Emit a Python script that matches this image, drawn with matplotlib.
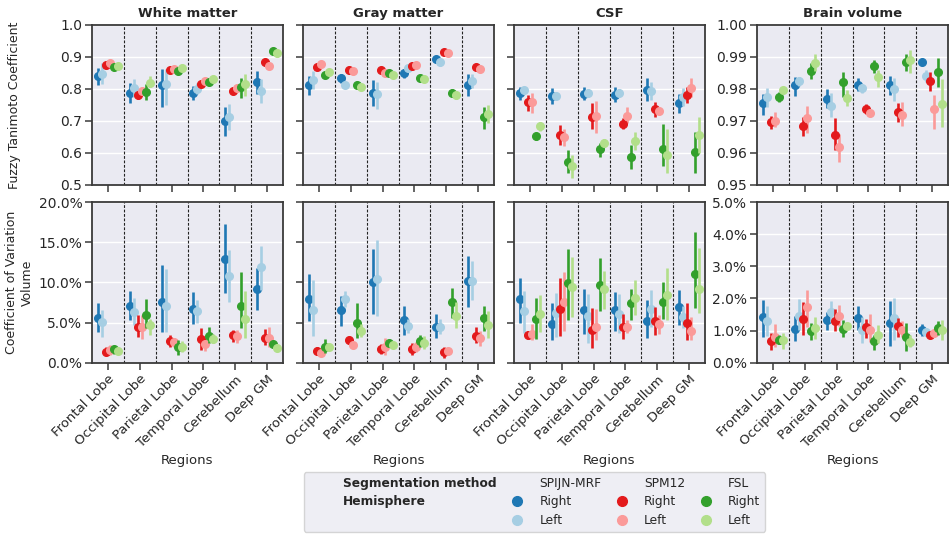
import matplotlib
matplotlib.use("Agg")
import matplotlib.pyplot as plt
import seaborn as sns
import numpy as np
from matplotlib.lines import Line2D
from matplotlib.ticker import FuncFormatter

sns.set_theme(style="darkgrid")
plt.rcParams['font.family'] = ['DejaVu Sans']

regions = ["Frontal Lobe", "Occipital Lobe", "Parietal Lobe", "Temporal Lobe", "Cerebellum", "Deep GM"]
tissues = ["White matter", "Gray matter", "CSF", "Brain volume"]
methods = ["SPIJN-MRF", "SPM12", "FSL"]
hemispheres = ["Right", "Left"]
colors = ["#1f78b4", "#a6cee3", "#e31a1c", "#fb9a99", "#33a02c", "#b2df8a"]

# series order: SPIJN R, SPIJN L, SPM R, SPM L, FSL R, FSL L ; columns = regions
wm_ftc_mean = [[0.840, 0.789, 0.811, 0.786, 0.699, 0.821],
               [0.848, 0.804, 0.815, 0.799, 0.714, 0.793],
               [0.874, 0.780, 0.858, 0.815, 0.793, 0.883],
               [0.881, 0.793, 0.862, 0.824, 0.804, 0.872],
               [0.869, 0.790, 0.856, 0.821, 0.807, 0.918],
               [0.873, 0.820, 0.866, 0.832, 0.817, 0.911]]
wm_ftc_lo = [[0.814, 0.755, 0.745, 0.766, 0.652, 0.783],
             [0.815, 0.776, 0.750, 0.783, 0.672, 0.755],
             [0.868, 0.768, 0.851, 0.810, 0.786, 0.877],
             [0.875, 0.783, 0.855, 0.818, 0.794, 0.864],
             [0.862, 0.765, 0.846, 0.814, 0.773, 0.908],
             [0.867, 0.805, 0.858, 0.825, 0.779, 0.901]]
wm_ftc_hi = [[0.866, 0.820, 0.861, 0.809, 0.745, 0.855],
             [0.881, 0.830, 0.864, 0.820, 0.752, 0.830],
             [0.880, 0.790, 0.865, 0.820, 0.800, 0.889],
             [0.887, 0.803, 0.869, 0.830, 0.814, 0.880],
             [0.876, 0.817, 0.866, 0.828, 0.835, 0.928],
             [0.879, 0.840, 0.874, 0.839, 0.846, 0.921]]

gm_ftc_mean = [[0.812, 0.833, 0.788, 0.850, 0.893, 0.812],
               [0.827, 0.814, 0.783, 0.866, 0.883, 0.824],
               [0.869, 0.858, 0.858, 0.872, 0.915, 0.870],
               [0.879, 0.855, 0.850, 0.874, 0.912, 0.864],
               [0.843, 0.812, 0.850, 0.835, 0.788, 0.712],
               [0.853, 0.807, 0.843, 0.831, 0.782, 0.722]]
gm_ftc_lo = [[0.781, 0.819, 0.748, 0.833, 0.883, 0.779],
             [0.799, 0.810, 0.737, 0.861, 0.873, 0.802],
             [0.864, 0.853, 0.853, 0.867, 0.910, 0.865],
             [0.874, 0.850, 0.845, 0.869, 0.907, 0.859],
             [0.838, 0.806, 0.840, 0.825, 0.776, 0.675],
             [0.848, 0.801, 0.833, 0.821, 0.770, 0.693]]
gm_ftc_hi = [[0.840, 0.846, 0.827, 0.864, 0.903, 0.848],
             [0.855, 0.818, 0.823, 0.871, 0.893, 0.848],
             [0.874, 0.863, 0.863, 0.877, 0.920, 0.875],
             [0.884, 0.860, 0.855, 0.879, 0.917, 0.869],
             [0.848, 0.818, 0.860, 0.845, 0.800, 0.745],
             [0.858, 0.813, 0.853, 0.841, 0.794, 0.750]]

csf_ftc_mean = [[0.786, 0.779, 0.784, 0.781, 0.796, 0.757],
                [0.796, 0.779, 0.788, 0.789, 0.794, 0.776],
                [0.758, 0.657, 0.711, 0.691, 0.738, 0.781],
                [0.758, 0.650, 0.716, 0.716, 0.731, 0.802],
                [0.652, 0.572, 0.611, 0.588, 0.611, 0.603],
                [0.683, 0.559, 0.631, 0.638, 0.593, 0.657]]
csf_ftc_lo = [[0.766, 0.752, 0.766, 0.759, 0.762, 0.724],
              [0.786, 0.769, 0.776, 0.779, 0.766, 0.747],
              [0.731, 0.624, 0.675, 0.675, 0.712, 0.757],
              [0.724, 0.623, 0.664, 0.693, 0.721, 0.776],
              [0.642, 0.536, 0.587, 0.549, 0.559, 0.536],
              [0.670, 0.521, 0.619, 0.610, 0.538, 0.600]]
csf_ftc_hi = [[0.807, 0.802, 0.805, 0.805, 0.833, 0.783],
              [0.806, 0.789, 0.800, 0.799, 0.823, 0.802],
              [0.781, 0.686, 0.755, 0.708, 0.760, 0.807],
              [0.786, 0.675, 0.764, 0.743, 0.741, 0.833],
              [0.662, 0.608, 0.630, 0.626, 0.691, 0.667],
              [0.696, 0.593, 0.643, 0.665, 0.675, 0.714]]

bv_ftc_mean = [[0.9757, 0.9812, 0.9768, 0.9814, 0.9814, 0.9884],
               [0.9776, 0.9824, 0.9748, 0.9802, 0.9799, 0.9840],
               [0.9696, 0.9683, 0.9657, 0.9737, 0.9727, 0.9824],
               [0.9700, 0.9709, 0.9618, 0.9724, 0.9719, 0.9737],
               [0.9776, 0.9855, 0.9822, 0.9871, 0.9884, 0.9853],
               [0.9796, 0.9882, 0.9773, 0.9836, 0.9892, 0.9752]]
bv_ftc_lo = [[0.9719, 0.9779, 0.9740, 0.9794, 0.9781, 0.9874],
             [0.9745, 0.9809, 0.9714, 0.9787, 0.9762, 0.9822],
             [0.9675, 0.9652, 0.9610, 0.9722, 0.9698, 0.9794],
             [0.9680, 0.9664, 0.9572, 0.9718, 0.9685, 0.9676],
             [0.9760, 0.9830, 0.9776, 0.9851, 0.9855, 0.9805],
             [0.9790, 0.9855, 0.9747, 0.9807, 0.9850, 0.9680]]
bv_ftc_hi = [[0.9783, 0.9838, 0.9800, 0.9834, 0.9840, 0.9894],
             [0.9804, 0.9839, 0.9786, 0.9817, 0.9833, 0.9860],
             [0.9717, 0.9711, 0.9709, 0.9752, 0.9757, 0.9853],
             [0.9729, 0.9747, 0.9659, 0.9730, 0.9760, 0.9781],
             [0.9791, 0.9882, 0.9853, 0.9891, 0.9910, 0.9898],
             [0.9802, 0.9910, 0.9796, 0.9860, 0.9923, 0.9831]]

wm_cov_mean = [[5.6, 7.1, 7.5, 6.7, 12.85, 9.2],
               [5.1, 6.3, 7.1, 6.4, 10.8, 11.9],
               [1.3, 4.4, 2.7, 2.9, 3.5, 3.1],
               [1.6, 4.5, 2.6, 2.3, 3.3, 3.1],
               [1.7, 5.9, 1.9, 3.3, 7.0, 2.3],
               [1.5, 4.7, 2.0, 2.9, 5.4, 1.8]]
wm_cov_lo = [[3.8, 5.3, 3.8, 4.8, 8.7, 6.5],
             [3.2, 4.7, 3.8, 4.9, 7.6, 9.1],
             [0.95, 3.2, 1.9, 1.6, 2.6, 2.2],
             [1.0, 3.0, 2.0, 1.4, 2.5, 2.0],
             [1.1, 4.3, 1.0, 2.4, 4.3, 1.9],
             [1.2, 3.5, 1.3, 2.4, 3.1, 1.5]]
wm_cov_hi = [[7.4, 8.9, 12.2, 8.8, 17.3, 11.8],
             [6.6, 8.0, 11.6, 7.8, 14.0, 14.5],
             [2.0, 5.9, 3.4, 4.3, 4.1, 4.2],
             [2.2, 5.9, 3.1, 3.2, 4.1, 4.4],
             [2.1, 7.9, 2.8, 4.5, 11.3, 2.6],
             [1.8, 5.5, 2.7, 3.6, 8.9, 2.1]]

gm_cov_mean = [[7.9, 6.5, 10.0, 5.3, 4.5, 10.2],
               [6.5, 7.9, 10.4, 4.6, 4.5, 10.2],
               [1.5, 2.8, 1.7, 1.7, 1.3, 3.3],
               [1.2, 2.2, 2.0, 2.0, 1.4, 3.1],
               [1.9, 4.9, 2.5, 2.7, 7.6, 5.6],
               [1.9, 4.0, 2.2, 2.5, 5.8, 4.7]]
gm_cov_lo = [[5.2, 4.6, 6.0, 3.4, 3.1, 6.9],
             [3.3, 6.9, 5.8, 3.7, 3.6, 7.8],
             [0.95, 2.3, 1.1, 1.0, 0.6, 2.4],
             [0.8, 1.8, 1.0, 1.3, 1.0, 2.1],
             [1.2, 3.1, 2.2, 1.9, 5.6, 4.0],
             [1.7, 3.2, 2.0, 1.7, 4.3, 3.1]]
gm_cov_hi = [[11.1, 8.3, 14.2, 7.1, 6.0, 13.3],
             [10.3, 8.9, 15.3, 5.4, 5.5, 12.6],
             [1.9, 3.2, 2.3, 2.4, 1.9, 4.4],
             [1.6, 2.6, 3.1, 2.6, 1.8, 4.0],
             [2.9, 7.4, 2.8, 3.4, 9.3, 7.0],
             [2.1, 4.8, 2.4, 3.3, 7.6, 6.4]]

csf_cov_mean = [[7.9, 4.8, 6.6, 6.5, 5.2, 6.9],
                [6.4, 6.2, 5.8, 6.1, 6.7, 5.7],
                [3.5, 6.7, 4.1, 4.5, 5.2, 5.0],
                [3.6, 7.5, 4.5, 4.5, 4.8, 4.0],
                [5.4, 9.9, 9.7, 7.4, 7.5, 11.0],
                [6.0, 9.4, 9.2, 8.1, 8.4, 9.2]]
csf_cov_lo = [[5.0, 2.8, 3.6, 4.0, 3.1, 4.7],
              [3.7, 3.2, 2.5, 3.7, 4.5, 4.3],
              [2.9, 3.3, 1.8, 2.9, 3.4, 2.8],
              [2.8, 4.0, 2.8, 3.7, 3.6, 2.8],
              [3.0, 5.3, 6.4, 5.3, 5.4, 6.8],
              [3.8, 5.7, 6.7, 5.9, 5.3, 6.2]]
csf_cov_hi = [[10.5, 7.4, 9.2, 8.8, 7.8, 9.0],
              [8.9, 8.7, 8.6, 8.6, 9.1, 7.1],
              [4.0, 10.5, 6.8, 6.0, 6.9, 7.4],
              [4.8, 11.3, 6.7, 5.3, 5.9, 5.7],
              [8.0, 14.2, 13.0, 9.2, 10.0, 16.3],
              [8.4, 13.2, 11.4, 10.3, 11.8, 14.3]]

bv_cov_mean = [[1.43, 1.06, 1.32, 1.39, 1.22, 1.01],
               [1.29, 1.45, 1.58, 1.01, 1.39, 0.96],
               [0.68, 1.35, 1.30, 1.10, 1.14, 0.86],
               [0.81, 1.74, 1.45, 1.03, 1.01, 0.93],
               [0.72, 0.98, 1.06, 0.68, 0.81, 1.08],
               [0.70, 1.08, 1.14, 0.86, 0.65, 1.01]]
bv_cov_lo = [[0.81, 0.67, 1.03, 1.01, 0.52, 0.83],
             [0.83, 1.01, 1.27, 0.60, 0.70, 0.90],
             [0.39, 0.86, 0.99, 0.77, 0.79, 0.79],
             [0.50, 1.12, 1.14, 0.65, 0.80, 0.81],
             [0.58, 0.72, 0.81, 0.41, 0.37, 0.86],
             [0.44, 0.75, 1.08, 0.60, 0.48, 0.70]]
bv_cov_hi = [[1.96, 1.45, 1.58, 1.76, 1.92, 1.19],
             [1.76, 1.99, 1.91, 1.43, 2.02, 1.02],
             [0.93, 1.89, 1.68, 1.37, 1.40, 0.93],
             [1.19, 2.27, 1.79, 1.53, 1.30, 1.05],
             [0.86, 1.24, 1.32, 0.86, 1.24, 1.29],
             [0.91, 1.43, 1.20, 1.17, 0.86, 1.32]]

ftc_data = [(wm_ftc_mean, wm_ftc_lo, wm_ftc_hi), (gm_ftc_mean, gm_ftc_lo, gm_ftc_hi),
            (csf_ftc_mean, csf_ftc_lo, csf_ftc_hi), (bv_ftc_mean, bv_ftc_lo, bv_ftc_hi)]
cov_data = [(wm_cov_mean, wm_cov_lo, wm_cov_hi), (gm_cov_mean, gm_cov_lo, gm_cov_hi),
            (csf_cov_mean, csf_cov_lo, csf_cov_hi), (bv_cov_mean, bv_cov_lo, bv_cov_hi)]

W, H = 949, 535
fig = plt.figure(figsize=(W / 100, H / 100), dpi=100)

lefts = [92, 303, 514, 757]
pw = 191
top_row = (25, 185)
bot_row = (202, 362.7)

def make_ax(x0, row):
    t, b = row
    return fig.add_axes([x0 / W, 1 - b / H, pw / W, (b - t) / H])

spine_c = "#3a3a3a"
txt_c = "#262626"
x = np.arange(len(regions))
offsets = (np.arange(6) - 2.5) * 0.125

def draw(ax, data):
    m, lo, hi = data
    for i in range(6):
        mm = np.array(m[i]); l = np.array(lo[i]); h = np.array(hi[i])
        ax.errorbar(x + offsets[i], mm, yerr=[mm - l, h - mm], fmt='o', color=colors[i],
                    ms=5.5, elinewidth=1.9, capsize=0, zorder=3 + i * 0.1, mec=colors[i])
    for b in np.arange(0.5, 5.5, 1.0):
        ax.axvline(b, color="#222222", ls=(0, (2.5, 1.5)), lw=0.8, zorder=2)
    ax.set_xlim(-0.5, 5.5)
    ax.set_xticks(x)
    ax.grid(axis='x', visible=False)
    ax.grid(axis='y', color='white', lw=1.0)
    ax.set_facecolor("#EAEAF2")
    for s in ax.spines.values():
        s.set_visible(True)
        s.set_color(spine_c)
        s.set_linewidth(1.3)
    ax.tick_params(axis='both', which='both', length=5, width=1.1, color=spine_c,
                   labelsize=10, labelcolor=txt_c, direction='out',
                   bottom=True, left=True, pad=2)

pct = FuncFormatter(lambda v, p: f"{v:.1f}%")

for c in range(4):
    axt = make_ax(lefts[c], top_row)
    draw(axt, ftc_data[c])
    axt.set_xticklabels([])
    axt.set_title(tissues[c], fontsize=9.5, fontweight='bold', color=txt_c, pad=6)
    if c < 3:
        axt.set_ylim(0.5, 1.0)
        axt.set_yticks(np.arange(0.5, 1.01, 0.1))
        axt.yaxis.set_major_formatter(FuncFormatter(lambda v, p: f"{v:.1f}"))
    else:
        axt.set_ylim(0.95, 1.0)
        axt.set_yticks(np.arange(0.95, 1.0001, 0.01))
        axt.yaxis.set_major_formatter(FuncFormatter(lambda v, p: f"{v:.2f}"))
    if c in (1, 2):
        axt.set_yticklabels([])

    axb = make_ax(lefts[c], bot_row)
    draw(axb, cov_data[c])
    axb.set_xticklabels(regions, rotation=45, ha='right', rotation_mode='anchor', fontsize=9.5)
    axb.set_xlabel("Regions", fontsize=9.5, color=txt_c, labelpad=3)
    if c < 3:
        axb.set_ylim(0, 20)
        axb.set_yticks(np.arange(0, 20.1, 5))
    else:
        axb.set_ylim(0, 5)
        axb.set_yticks(np.arange(0, 5.01, 1))
    axb.yaxis.set_major_formatter(pct)
    if c in (1, 2):
        axb.set_yticklabels([])
    if c == 0:
        axt.set_ylabel("Fuzzy Tanimoto Coefficient", fontsize=9, color=txt_c)
        axt.yaxis.set_label_coords((21 - 92) / pw, 0.5)
        axb.set_ylabel("Coefficient of Variation\nVolume", fontsize=9, color=txt_c,
                       linespacing=1.25)
        axb.yaxis.set_label_coords((34 - 92) / pw, 0.5)

# legend
blank = Line2D([], [], linestyle='none', marker=None)
handles = [blank, blank, blank]
labels = ["Segmentation method", "Hemisphere", ""]
for mi, mname in enumerate(methods):
    handles += [blank,
                Line2D([], [], linestyle='none', marker='o', color=colors[2 * mi], ms=7),
                Line2D([], [], linestyle='none', marker='o', color=colors[2 * mi + 1], ms=7)]
    labels += [mname, "Right", "Left"]
leg = fig.legend(handles, labels, ncol=4, loc='center',
                 bbox_to_anchor=((306 + 763) / 2 / W, 1 - 502 / H),
                 fontsize=8.8, frameon=True, facecolor="#EAEAF2", edgecolor="#cccccc",
                 columnspacing=0.7, handletextpad=0.8, labelspacing=0.45, borderpad=0.4)
for t in leg.get_texts():
    t.set_color(txt_c)
    if t.get_text() in ("Segmentation method", "Hemisphere"):
        t.set_fontweight('bold')

fig.savefig("out.png", dpi=100)
